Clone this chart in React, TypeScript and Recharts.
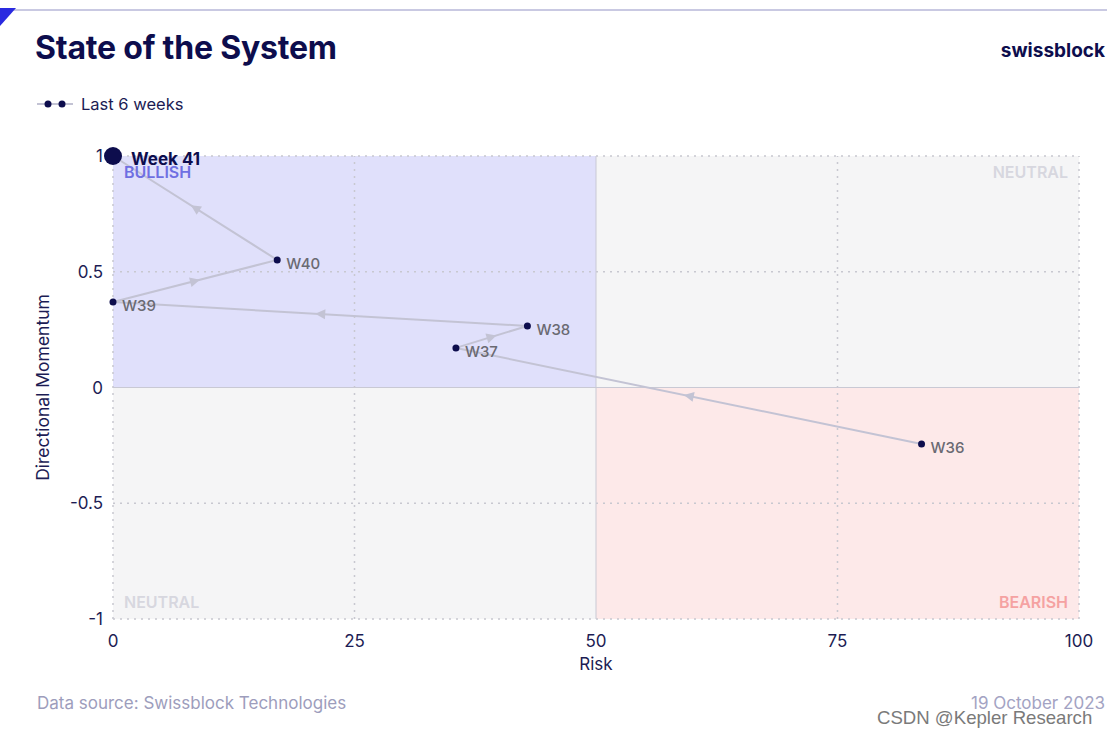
import React from "react";
import {
  ScatterChart,
  Scatter,
  XAxis,
  YAxis,
  ReferenceArea,
  ReferenceLine,
} from "recharts";

const weeks = ["W36", "W37", "W38", "W39", "W40", "Week 41"];
const riskValues = [83.7, 35.5, 42.9, 0, 17.0, 0];
const momentumValues = [-0.244, 0.171, 0.266, 0.369, 0.551, 1.0];

const riskTicks = [0, 25, 50, 75, 100];
const momentumTicks = [-1, -0.5, 0, 0.5, 1];

const NAVY = "#0d0d4d";
const TICK = "#1c1c54";
const PATH = "#c3c3d4";
const FONT = "Inter, 'Noto Sans', sans-serif";

const points = weeks.map((week, i) => ({
  week,
  risk: riskValues[i],
  momentum: momentumValues[i],
  last: i === weeks.length - 1,
}));

function PathWithArrows(props: any) {
  const pts: { x: number; y: number }[] = (props.points || []).map((p: any) => ({
    x: p.cx ?? p.x,
    y: p.cy ?? p.y,
  }));
  if (pts.length < 2) return null;
  const d = pts.map((p, i) => `${i === 0 ? "M" : "L"}${p.x},${p.y}`).join(" ");
  return (
    <g>
      <path d={d} fill="none" stroke={PATH} strokeWidth={2} />
      {pts.slice(1).map((p, i) => {
        const a = pts[i];
        const mx = (a.x + p.x) / 2;
        const my = (a.y + p.y) / 2;
        const ang = (Math.atan2(p.y - a.y, p.x - a.x) * 180) / Math.PI;
        return (
          <path
            key={i}
            d="M5,0 L-5,-5 L-5,5 Z"
            fill={PATH}
            transform={`translate(${mx},${my}) rotate(${ang})`}
          />
        );
      })}
    </g>
  );
}

function WeekDot(props: any) {
  const { cx, cy, payload } = props;
  if (cx == null || cy == null) return null;
  if (payload.last) {
    return (
      <g>
        <circle cx={cx} cy={cy} r={9} fill={NAVY} />
        <text
          x={cx + 18}
          y={cy + 4}
          dominantBaseline="middle"
          fill={NAVY}
          fontSize={17}
          fontWeight={700}
          fontFamily={FONT}
        >
          {payload.week}
        </text>
      </g>
    );
  }
  return (
    <g>
      <circle cx={cx} cy={cy} r={3.5} fill={NAVY} />
      <text
        x={cx + 9}
        y={cy + 5}
        dominantBaseline="middle"
        fill="#6a6a72"
        fontSize={15}
        fontWeight={500}
        fontFamily={FONT}
      >
        {payload.week}
      </text>
    </g>
  );
}

const quadLabel = (value: string, position: any, fill: string) => ({
  value,
  position,
  offset: 11,
  fill,
  fontSize: 16,
  fontWeight: 600,
  fontFamily: FONT,
});

export default function App() {
  return (
    <div
      style={{
        position: "absolute",
        left: 0,
        top: 0,
        width: 1107,
        height: 738,
        background: "#ffffff",
        fontFamily: FONT,
        overflow: "hidden",
      }}
    >
      {/* top rule and corner triangle */}
      <div style={{ position: "absolute", left: 0, top: 9, width: 1107, height: 2, background: "#c9c9e2" }} />
      <svg style={{ position: "absolute", left: 0, top: 0 }} width={20} height={30}>
        <polygon points="0,8 16,8 0,26" fill="#2a2ae0" />
      </svg>

      <div
        style={{
          position: "absolute",
          left: 35,
          top: 28,
          fontSize: 32,
          fontWeight: 700,
          color: NAVY,
          letterSpacing: -0.2,
        }}
      >
        State of the System
      </div>
      <div
        style={{
          position: "absolute",
          right: 2,
          top: 39,
          fontSize: 19,
          fontWeight: 700,
          color: NAVY,
        }}
      >
        swissblock
      </div>

      {/* legend */}
      <div style={{ position: "absolute", left: 37, top: 94, display: "flex", alignItems: "center" }}>
        <svg width={38} height={20}>
          <line x1={0} y1={10} x2={36} y2={10} stroke={PATH} strokeWidth={2} />
          <circle cx={11} cy={10} r={3.5} fill={NAVY} />
          <circle cx={25} cy={10} r={3.5} fill={NAVY} />
        </svg>
        <span style={{ marginLeft: 6, fontSize: 16.5, color: TICK }}>Last 6 weeks</span>
      </div>

      <div style={{ position: "absolute", left: 0, top: 0 }}>
        <ScatterChart
          width={1107}
          height={738}
          margin={{ top: 156, right: 28, bottom: 69, left: 53 }}
        >
          <XAxis
            type="number"
            dataKey="risk"
            domain={[0, 100]}
            ticks={riskTicks}
            axisLine={false}
            tickLine={false}
            tickMargin={10}
            height={50}
            tick={{ fill: TICK, fontSize: 17, fontFamily: FONT }}
            label={{ value: "Risk", position: "insideBottom", offset: -1, fill: TICK, fontSize: 17, fontFamily: FONT }}
          />
          <YAxis
            type="number"
            dataKey="momentum"
            domain={[-1, 1]}
            ticks={momentumTicks}
            axisLine={false}
            tickLine={false}
            tickMargin={4}
            width={60}
            tick={{ fill: TICK, fontSize: 17, fontFamily: FONT }}
            label={{
              value: "Directional Momentum",
              angle: -90,
              position: "insideLeft",
              offset: -10,
              style: { textAnchor: "middle" },
              fill: TICK,
              fontSize: 17.5,
              fontFamily: FONT,
            }}
          />

          <ReferenceArea x1={0} x2={50} y1={0} y2={1} fill="#e0e0fb" fillOpacity={1} label={quadLabel("BULLISH", "insideTopLeft", "#6f6fe2")} />
          <ReferenceArea x1={50} x2={100} y1={0} y2={1} fill="#f5f5f6" fillOpacity={1} label={quadLabel("NEUTRAL", "insideTopRight", "#d7d7df")} />
          <ReferenceArea x1={0} x2={50} y1={-1} y2={0} fill="#f5f5f6" fillOpacity={1} label={quadLabel("NEUTRAL", "insideBottomLeft", "#d7d7df")} />
          <ReferenceArea x1={50} x2={100} y1={-1} y2={0} fill="#fde9e9" fillOpacity={1} label={quadLabel("BEARISH", "insideBottomRight", "#f5a2a2")} />

          {[0, 25, 75, 100].map((v) => (
            <ReferenceLine key={`x${v}`} x={v} stroke="#c8c8d0" strokeDasharray="2 5" strokeWidth={1.5} />
          ))}
          {[-1, -0.5, 0.5, 1].map((v) => (
            <ReferenceLine key={`y${v}`} y={v} stroke="#c8c8d0" strokeDasharray="2 5" strokeWidth={1.5} />
          ))}
          <ReferenceLine x={50} stroke="#c9c9d4" strokeWidth={1} />
          <ReferenceLine y={0} stroke="#c9c9d4" strokeWidth={1} />

          <Scatter
            name="Last 6 weeks"
            data={points}
            line={<PathWithArrows />}
            shape={<WeekDot />}
            isAnimationActive={false}
          />
        </ScatterChart>
      </div>

      {/* footer */}
      <div style={{ position: "absolute", left: 37, top: 693, fontSize: 17, color: "#9d9dbc" }}>
        Data source: Swissblock Technologies
      </div>
      <div style={{ position: "absolute", right: 2, top: 693, fontSize: 17, color: "#a3a3c3" }}>
        19 October 2023
      </div>
      <div
        style={{
          position: "absolute",
          left: 877,
          top: 707,
          fontSize: 18.6,
          color: "#7a7a7a",
          fontFamily: "'Liberation Sans', Arial, sans-serif",
        }}
      >
        CSDN @Kepler Research
      </div>
    </div>
  );
}
